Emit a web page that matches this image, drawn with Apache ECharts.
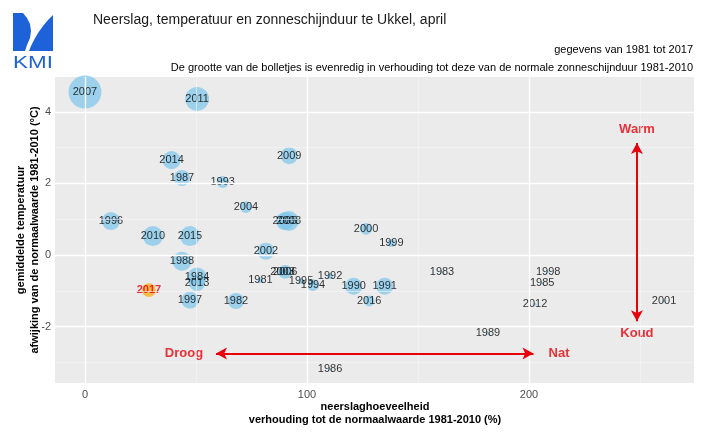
<!DOCTYPE html>
<html>
<head>
<meta charset="utf-8">
<script src="https://cdn.jsdelivr.net/npm/echarts@6/dist/echarts.min.js"></script>
<style>
html, body { margin: 0; padding: 0; background: #fff; }
#chart { width: 710px; height: 435px; }
</style>
</head>
<body>
<div id="chart"></div>
<script>
// jaren, neerslag (% van normaal), temperatuurafwijking (°C), zonneschijnduur (% van normaal)
var years = [1981, 1982, 1983, 1984, 1985, 1986, 1987, 1988, 1989, 1990,
             1991, 1992, 1993, 1994, 1995, 1996, 1997, 1998, 1999, 2000,
             2001, 2002, 2003, 2004, 2005, 2006, 2007, 2008, 2009, 2010,
             2011, 2012, 2013, 2014, 2015, 2016];
var rain = [79, 68, 160.8, 50.5, 205.9, 110.4, 43.7, 43.7, 181.5, 121,
            135, 110.4, 62, 102.7, 97.3, 11.7, 47.3, 208.6, 138, 126.6,
            260.8, 81.5, 89.0, 72.5, 90.0, 90.2, 0, 91.8, 92, 30.6,
            50.5, 202.7, 50.5, 39, 47.3, 128];
var temp = [-0.70, -1.28, -0.47, -0.61, -0.78, -3.18, 2.15, -0.17, -2.18, -0.87,
            -0.87, -0.59, 2.04, -0.84, -0.73, 0.95, -1.26, -0.47, 0.34, 0.73,
            -1.28, 0.11, -0.47, 1.34, 0.95, -0.47, 4.55, 0.95, 2.77, 0.53,
            4.36, -1.37, -0.78, 2.65, 0.53, -1.28];
var sun = [61, 82, 60, 93, 60, 60, 82, 93, 60, 85,
           85, 61, 70, 70, 61, 89, 85, 60, 63, 70,
           60, 85, 63, 70, 89, 75, 175, 97, 85, 97,
           116, 60, 82, 89, 97, 68];

// het huidige jaar apart
var curYear = 2017;
var curRain = 28.8;
var curTemp = -0.98;
var curSun = 75;

var xTicks = [0, 100, 200];
var yTicks = [-2, 0, 2, 4];
var xGrid = [0, 100, 200];
var xMinor = [50, 150, 250];
var yGrid = [-2, 0, 2, 4];
var yMinor = [-3, -1, 1, 3];

var sunMin = 60, sunMax = 175;
function bubbleSize(v) {
    return 3 + 30 * Math.sqrt(Math.max(0, v - sunMin) / (sunMax - sunMin));
}

var pts = years.map(function (y, i) { return [rain[i], temp[i], sun[i], y]; });

var font = '"Liberation Sans", Arial, sans-serif';
var red = '#E8000B';
var kmiBlue = '#1E62DA';

function gridLines(xs, ys, w, col) {
    var d = [];
    xs.forEach(function (v) { d.push({ xAxis: v }); });
    ys.forEach(function (v) { d.push({ yAxis: v }); });
    return {
        type: 'scatter', data: [], z: 1, silent: true,
        markLine: {
            silent: true, symbol: ['none', 'none'], label: { show: false },
            lineStyle: { color: col, width: w, type: 'solid' },
            emphasis: { disabled: true },
            animation: false,
            data: d
        }
    };
}

var chart = echarts.init(document.getElementById('chart'));
chart.setOption({
    animation: false,
    backgroundColor: '#fff',
    textStyle: { fontFamily: font },
    grid: {
        left: 55, right: 16, top: 77, bottom: 52,
        show: true, backgroundColor: '#EBEBEB', borderWidth: 0
    },
    xAxis: {
        type: 'value', min: -13.5, max: 274.3,
        axisLine: { show: false },
        splitLine: { show: false },
        axisTick: { show: true, length: 3, customValues: xTicks, lineStyle: { color: '#333', width: 1 } },
        axisLabel: { customValues: xTicks, color: '#4D4D4D', fontSize: 11, margin: 6, fontFamily: font }
    },
    yAxis: {
        type: 'value', min: -3.57, max: 4.97,
        axisLine: { show: false },
        splitLine: { show: false },
        axisTick: { show: true, length: 3, customValues: yTicks, lineStyle: { color: '#333', width: 1 } },
        axisLabel: { customValues: yTicks, color: '#4D4D4D', fontSize: 11, margin: 4, fontFamily: font }
    },
    series: [
        gridLines(xMinor, yMinor, 0.6, '#F7F7F7'),
        gridLines(xGrid, yGrid, 1.3, '#FFFFFF'),
        {
            type: 'scatter', z: 3,
            data: pts,
            symbolSize: function (v) { return bubbleSize(v[2]); },
            itemStyle: { color: 'rgba(120,196,234,0.85)' },
            label: {
                show: true, position: 'inside',
                formatter: function (p) { return p.value[3]; },
                color: '#000', fontSize: 11, fontFamily: font,
                textBorderWidth: 0
            }
        },
        {
            type: 'scatter', z: 4,
            data: [[curRain, curTemp, curSun, curYear]],
            symbolSize: function (v) { return bubbleSize(v[2]); },
            itemStyle: { color: 'rgba(255,165,0,0.85)' },
            label: {
                show: true, position: 'inside',
                formatter: function (p) { return p.value[3]; },
                color: red, fontSize: 11, fontWeight: 'bold', fontFamily: font,
                textBorderWidth: 0
            }
        },
        {
            // pijlen Droog/Nat en Warm/Koud
            type: 'scatter', z: 2, silent: true,
            symbolSize: 0,
            data: [
                { value: [44.6, -2.75], label: { formatter: 'Droog' } },
                { value: [213.5, -2.75], label: { formatter: 'Nat' } },
                { value: [248.6, 3.5], label: { formatter: 'Warm' } },
                { value: [248.6, -2.2], label: { formatter: 'Koud' } }
            ],
            label: { show: true, position: 'inside', color: red, fontSize: 13, fontWeight: 'bold', fontFamily: font, textBorderWidth: 0 },
            markLine: {
                silent: true, symbol: ['arrow', 'arrow'], symbolSize: [9, 11],
                label: { show: false },
                lineStyle: { color: red, width: 2, type: 'solid' },
                data: [
                    [{ coord: [59, -2.75] }, { coord: [202, -2.75] }],
                    [{ coord: [248.6, 3.13] }, { coord: [248.6, -1.85] }]
                ]
            }
        }
    ],
    graphic: [
        { type: 'polygon', shape: { points: [[13, 13], [23, 13], [27, 18], [30, 24], [31, 31], [30, 38], [27, 45], [25, 51], [13, 51]] }, style: { fill: kmiBlue } },
        { type: 'polygon', shape: { points: [[53, 15], [53, 51], [29, 51], [31, 46], [34, 40], [38, 33], [43, 26], [48, 20]] }, style: { fill: kmiBlue } },
        { type: 'text', x: 33, y: 64, scaleX: 1.4, style: { text: 'KMI', fill: kmiBlue, font: '16px ' + font, align: 'center', verticalAlign: 'middle' } },
        { type: 'text', x: 93, y: 20, style: { text: 'Neerslag, temperatuur en zonneschijnduur te Ukkel, april', fill: '#1a1a1a', font: '14px ' + font, verticalAlign: 'middle' } },
        { type: 'text', x: 693, y: 50, style: { text: 'gegevens van 1981 tot 2017', fill: '#000', font: '11px ' + font, align: 'right', verticalAlign: 'middle' } },
        { type: 'text', x: 693, y: 68, style: { text: 'De grootte van de bolletjes is evenredig in verhouding tot deze van de normale zonneschijnduur 1981-2010', fill: '#000', font: '11px ' + font, align: 'right', verticalAlign: 'middle' } },
        { type: 'text', x: 375, y: 407, style: { text: 'neerslaghoeveelheid', fill: '#000', font: 'bold 11px ' + font, align: 'center', verticalAlign: 'middle' } },
        { type: 'text', x: 375, y: 420, style: { text: 'verhouding tot de normaalwaarde 1981-2010 (%)', fill: '#000', font: 'bold 11px ' + font, align: 'center', verticalAlign: 'middle' } },
        { type: 'text', x: 21, y: 230, rotation: Math.PI / 2, style: { text: 'gemiddelde temperatuur', fill: '#000', font: 'bold 11px ' + font, align: 'center', verticalAlign: 'middle' } },
        { type: 'text', x: 35, y: 230, rotation: Math.PI / 2, style: { text: 'afwijking van de normaalwaarde 1981-2010 (°C)', fill: '#000', font: 'bold 11px ' + font, align: 'center', verticalAlign: 'middle' } }
    ]
});
</script>
</body>
</html>
